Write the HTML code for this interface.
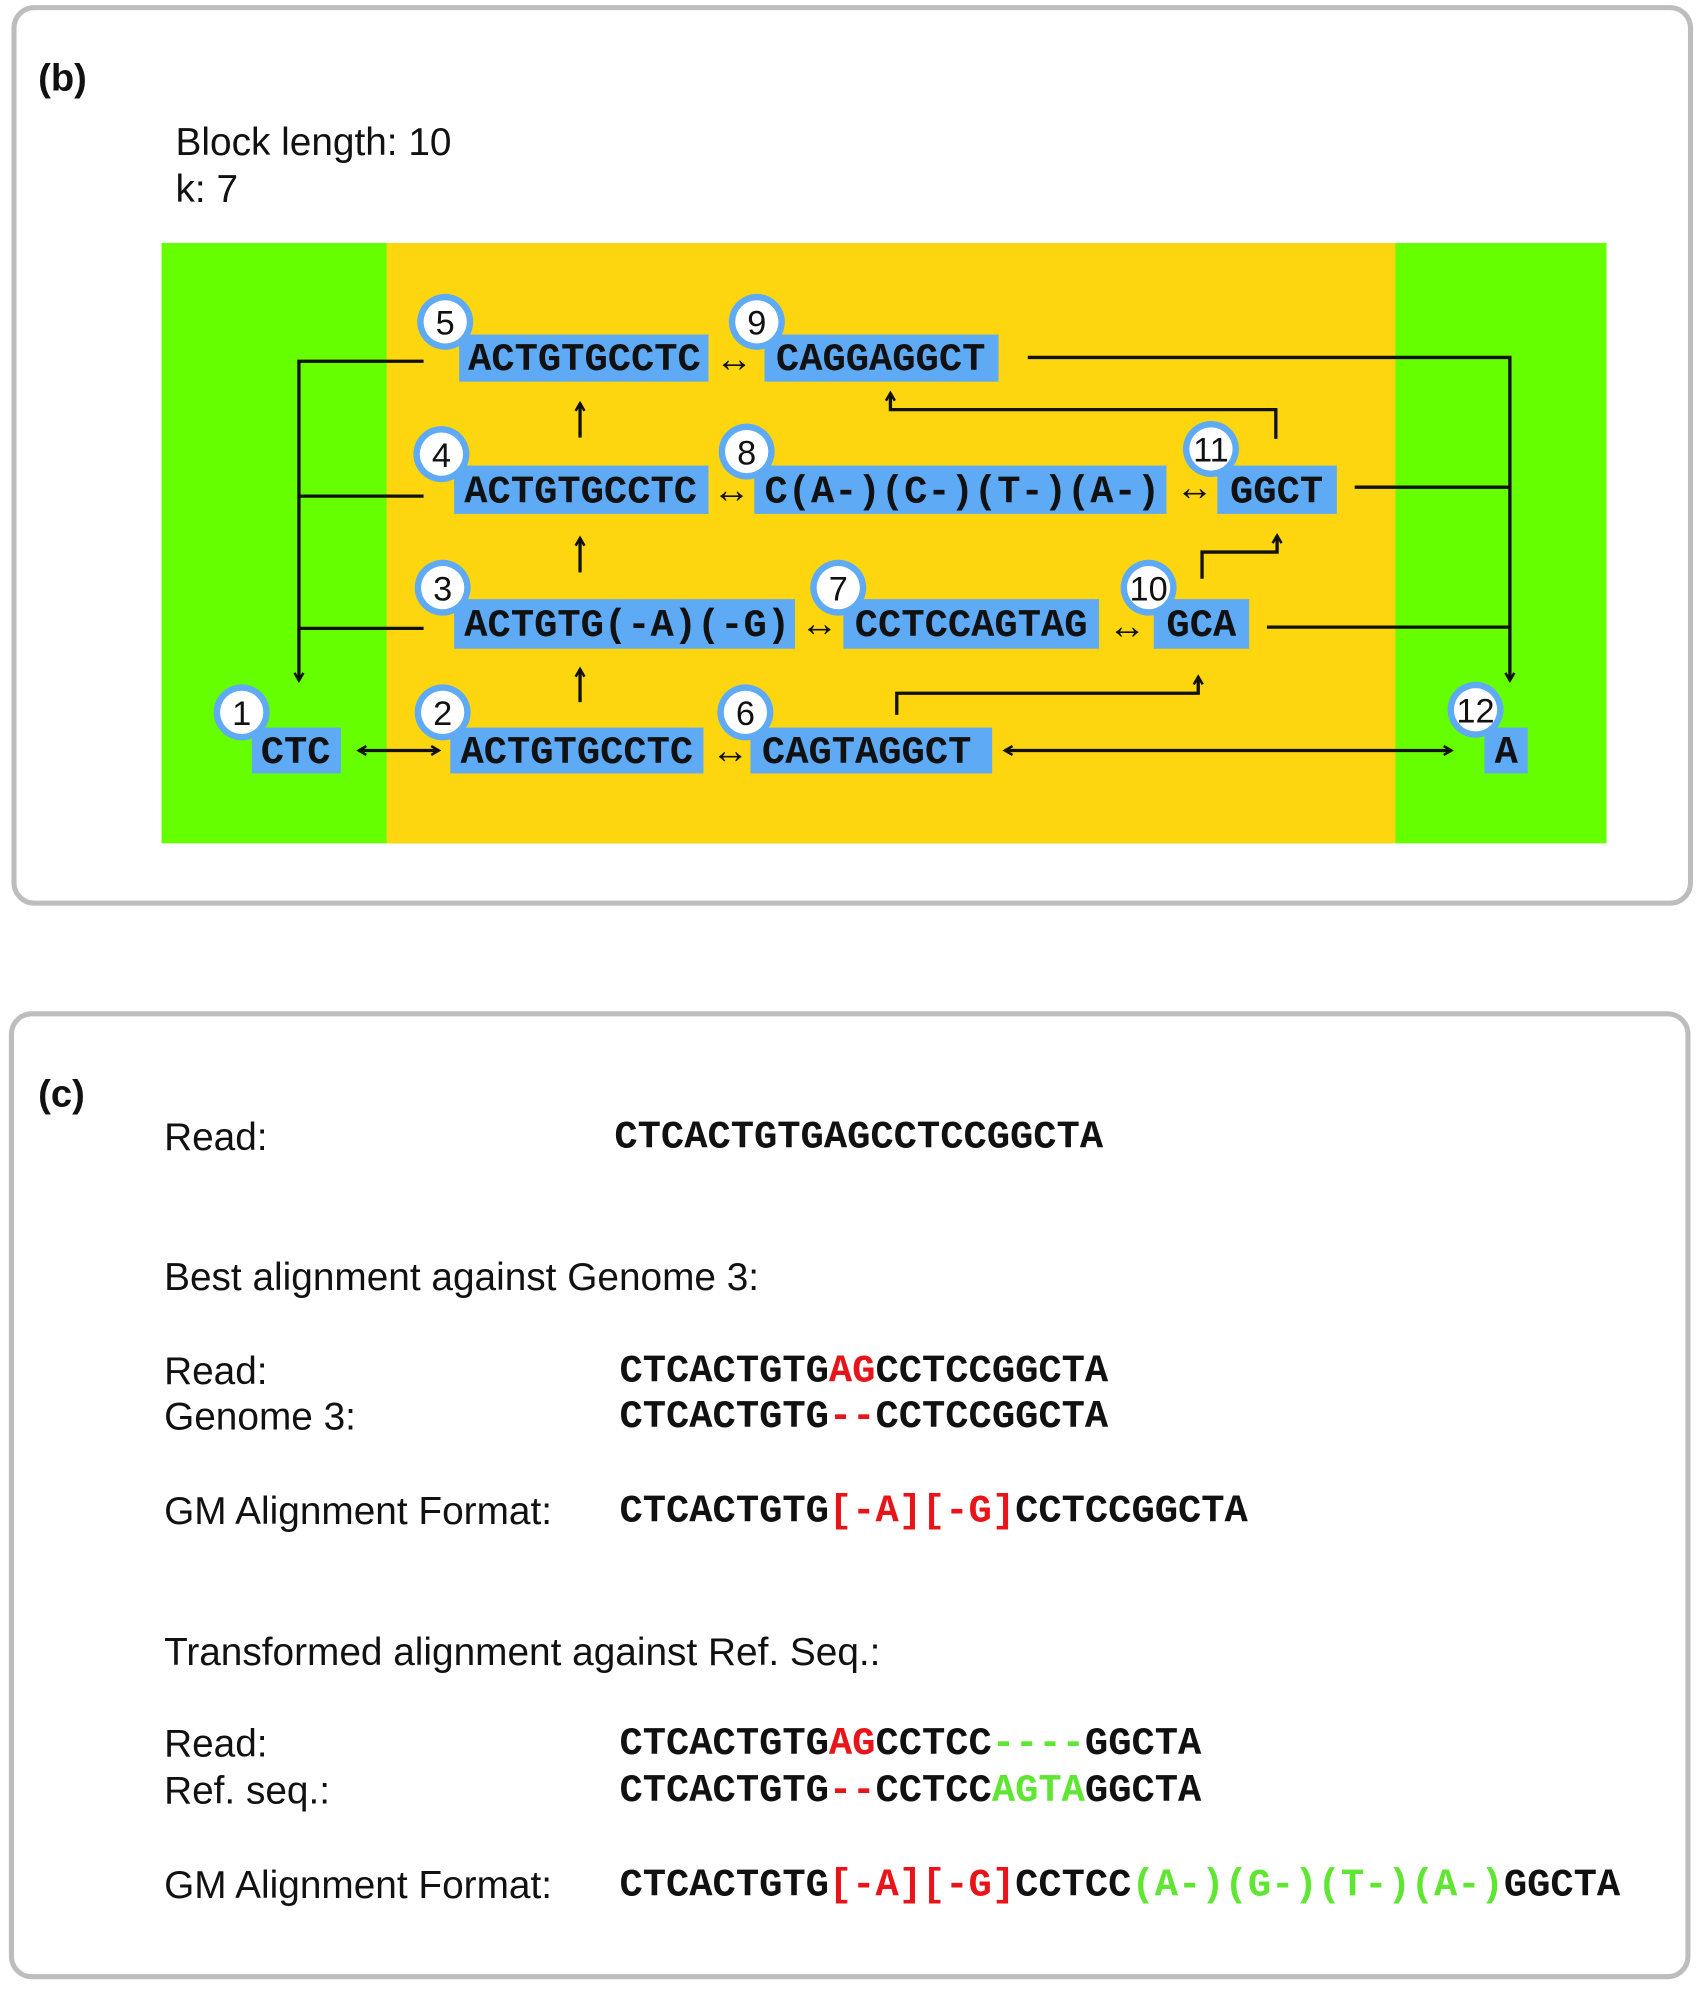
<!DOCTYPE html>
<html><head><meta charset="utf-8"><style>
html,body{margin:0;padding:0;background:#fff;}
svg{display:block;}
.s{font-family:"Liberation Sans",Arial,sans-serif;font-size:30.5px;fill:#111;}
.m{font-family:"Liberation Mono","Courier New",monospace;font-weight:bold;font-size:30.5px;fill:#111;}
.n{font-family:"Liberation Sans",Arial,sans-serif;font-size:27px;fill:#111;text-anchor:middle;}
.ln{stroke:#111;stroke-width:2.6;fill:none;}
.r{fill:#e8141a;} .g{fill:#5fe632;}
</style></head><body>
<svg width="1705" height="2000" viewBox="0 0 1340.4 1572.3" xmlns="http://www.w3.org/2000/svg">
<defs>
<marker id="ah" markerWidth="10" markerHeight="10" refX="7" refY="5" orient="auto-start-reverse" markerUnits="userSpaceOnUse">
<path d="M1,1.5 L7,5 L1,8.5" fill="none" stroke="#111" stroke-width="2"/>
</marker>
</defs>
<!-- panel b -->
<rect x="11" y="6" width="1318" height="704" rx="16" fill="#fff" stroke="#bdbdbd" stroke-width="4"/>
<text x="30" y="71" class="s" style="font-weight:bold;font-size:30px">(b)</text>
<text x="138" y="122" class="s">Block length: 10</text>
<text x="138" y="159" class="s">k: 7</text>
<rect x="127" y="191" width="1136" height="472" fill="#66ff00"/>
<rect x="304" y="191" width="793" height="472" fill="#fdd60f"/>

<g class="ln">
<path d="M333,284 H235 V535" marker-end="url(#ah)"/>
<path d="M333,390 H235"/>
<path d="M333,494 H235"/>
<path d="M808,281 H1187 V535" marker-end="url(#ah)"/>
<path d="M1065,383 H1187"/>
<path d="M996,493 H1187"/>
<path d="M1003,345 V322 H700 V309" marker-end="url(#ah)"/>
<path d="M945,455 V434 H1004 V421" marker-end="url(#ah)"/>
<path d="M705,562 V545 H942 V532" marker-end="url(#ah)"/>
<path d="M456,344 V317" marker-end="url(#ah)"/>
<path d="M456,450 V423" marker-end="url(#ah)"/>
<path d="M456,552 V526" marker-end="url(#ah)"/>
<path d="M790,590 H1141" marker-end="url(#ah)" marker-start="url(#ah)"/>
<path d="M282,590 H345" marker-end="url(#ah)" marker-start="url(#ah)"/>
</g>

<g fill="#5eaaf5">
<rect x="361" y="263" width="196" height="37"/>
<rect x="601" y="263" width="184" height="37"/>
<rect x="357" y="366" width="200" height="38"/>
<rect x="593" y="366" width="324" height="38"/>
<rect x="957" y="366" width="94" height="38"/>
<rect x="357" y="471" width="268" height="39"/>
<rect x="663" y="471" width="201" height="39"/>
<rect x="907" y="471" width="75" height="39"/>
<rect x="198" y="572" width="70" height="36"/>
<rect x="354" y="572" width="199" height="36"/>
<rect x="590" y="572" width="190" height="36"/>
<rect x="1167" y="572" width="34" height="36"/>
</g>
<g fill="#5eaaf5">
<circle cx="350" cy="253" r="22"/><circle cx="595" cy="253" r="22"/>
<circle cx="347" cy="357" r="22"/><circle cx="587" cy="355" r="22"/><circle cx="952" cy="353" r="22"/>
<circle cx="348" cy="462" r="22"/><circle cx="659" cy="462" r="22"/><circle cx="903" cy="462" r="22"/>
<circle cx="190" cy="560" r="22"/><circle cx="348" cy="560" r="22"/><circle cx="586" cy="560" r="22"/><circle cx="1160" cy="558" r="22"/>
</g>
<g fill="#fff">
<circle cx="350" cy="253" r="17"/><circle cx="595" cy="253" r="17"/>
<circle cx="347" cy="357" r="17"/><circle cx="587" cy="355" r="17"/><circle cx="952" cy="353" r="17"/>
<circle cx="348" cy="462" r="17"/><circle cx="659" cy="462" r="17"/><circle cx="903" cy="462" r="17"/>
<circle cx="190" cy="560" r="17"/><circle cx="348" cy="560" r="17"/><circle cx="586" cy="560" r="17"/><circle cx="1160" cy="558" r="17"/>
</g>
<g class="n">
<text x="350" y="263">5</text><text x="595" y="263">9</text>
<text x="347" y="367">4</text><text x="587" y="365">8</text><text x="952" y="363">11</text>
<text x="348" y="472">3</text><text x="659" y="472">7</text><text x="903" y="472">10</text>
<text x="190" y="570">1</text><text x="348" y="570">2</text><text x="586" y="570">6</text><text x="1160" y="568">12</text>
</g>
<g class="m">
<text x="368" y="291">ACTGTGCCTC</text>
<text x="610" y="291">CAGGAGGCT</text>
<text x="365" y="395">ACTGTGCCTC</text>
<text x="601" y="395">C(A-)(C-)(T-)(A-)</text>
<text x="967" y="395">GGCT</text>
<text x="365" y="500">ACTGTG(-A)(-G)</text>
<text x="672" y="500">CCTCCAGTAG</text>
<text x="917" y="500">GCA</text>
<text x="205" y="600">CTC</text>
<text x="362" y="600">ACTGTGCCTC</text>
<text x="599" y="600">CAGTAGGCT</text>
<text x="1175" y="600">A</text>
</g>
<g class="s" style="font-size:30px;font-weight:bold">
<text x="577" y="292" text-anchor="middle">↔</text>
<text x="575" y="395" text-anchor="middle">↔</text>
<text x="939" y="393" text-anchor="middle">↔</text>
<text x="644" y="500" text-anchor="middle">↔</text>
<text x="886" y="502" text-anchor="middle">↔</text>
<text x="574" y="600" text-anchor="middle">↔</text>
</g>

<!-- panel c -->
<rect x="9" y="797" width="1318" height="757" rx="16" fill="#fff" stroke="#bdbdbd" stroke-width="4"/>
<text x="30" y="870" class="s" style="font-weight:bold;font-size:30px">(c)</text>
<g class="s">
<text x="129" y="904">Read:</text>
<text x="129" y="1014">Best alignment against Genome 3:</text>
<text x="129" y="1088">Read:</text>
<text x="129" y="1124">Genome 3:</text>
<text x="129" y="1198">GM Alignment Format:</text>
<text x="129" y="1309">Transformed alignment against Ref. Seq.:</text>
<text x="129" y="1381">Read:</text>
<text x="129" y="1418">Ref. seq.:</text>
<text x="129" y="1492">GM Alignment Format:</text>
</g>
<g class="m">
<text x="483" y="902">CTCACTGTGAGCCTCCGGCTA</text>
<text x="487" y="1086">CTCACTGTG<tspan class="r">AG</tspan>CCTCCGGCTA</text>
<text x="487" y="1122">CTCACTGTG<tspan class="r">--</tspan>CCTCCGGCTA</text>
<text x="487" y="1196">CTCACTGTG<tspan class="r">[-A][-G]</tspan>CCTCCGGCTA</text>
<text x="487" y="1379">CTCACTGTG<tspan class="r">AG</tspan>CCTCC<tspan class="g">----</tspan>GGCTA</text>
<text x="487" y="1416">CTCACTGTG<tspan class="r">--</tspan>CCTCC<tspan class="g">AGTA</tspan>GGCTA</text>
<text x="487" y="1490">CTCACTGTG<tspan class="r">[-A][-G]</tspan>CCTCC<tspan class="g">(A-)(G-)(T-)(A-)</tspan>GGCTA</text>
</g>
</svg>
</body></html>
